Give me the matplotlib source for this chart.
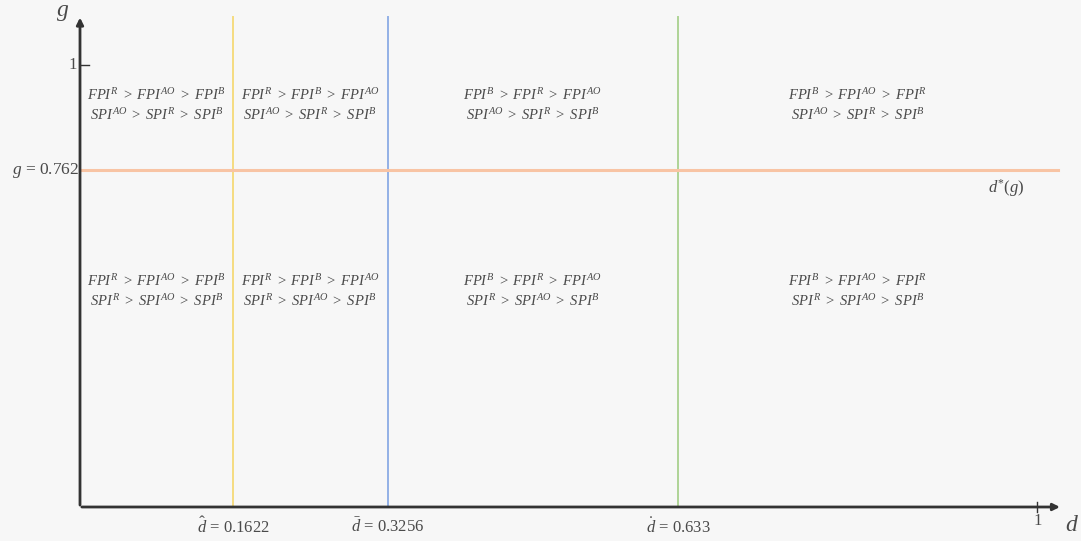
import matplotlib
matplotlib.use("Agg")
import matplotlib.pyplot as plt

plt.rcParams['font.family'] = ['Liberation Serif', 'DejaVu Serif']
plt.rcParams['mathtext.fontset'] = 'custom'
plt.rcParams['mathtext.rm'] = 'Liberation Serif'
plt.rcParams['mathtext.it'] = 'Liberation Serif:italic'
plt.rcParams['mathtext.bf'] = 'Liberation Serif:bold'

# data
thresholds = [0.1622, 0.3256, 0.633]
threshold_labels = [r"$\hat{d}$ = 0.1622", r"$\bar{d}$ = 0.3256", r"$\dot{d}$ = 0.633"]
threshold_colors = ["#f5dc80", "#93b1e6", "#afd496"]
g_star = 0.762
g_label = r"$g$ = 0.762"
upper_labels = [
    r"$FPI^R\ >\ FPI^{AO}\ >\ FPI^B$" + "\n" + r"$SPI^{AO}\ >\ SPI^R\ >\ SPI^B$",
    r"$FPI^R\ >\ FPI^B\ >\ FPI^{AO}$" + "\n" + r"$SPI^{AO}\ >\ SPI^R\ >\ SPI^B$",
    r"$FPI^B\ >\ FPI^R\ >\ FPI^{AO}$" + "\n" + r"$SPI^{AO}\ >\ SPI^R\ >\ SPI^B$",
    r"$FPI^B\ >\ FPI^{AO}\ >\ FPI^R$" + "\n" + r"$SPI^{AO}\ >\ SPI^R\ >\ SPI^B$",
]
lower_labels = [
    r"$FPI^R\ >\ FPI^{AO}\ >\ FPI^B$" + "\n" + r"$SPI^R\ >\ SPI^{AO}\ >\ SPI^B$",
    r"$FPI^R\ >\ FPI^B\ >\ FPI^{AO}$" + "\n" + r"$SPI^R\ >\ SPI^{AO}\ >\ SPI^B$",
    r"$FPI^B\ >\ FPI^R\ >\ FPI^{AO}$" + "\n" + r"$SPI^R\ >\ SPI^{AO}\ >\ SPI^B$",
    r"$FPI^B\ >\ FPI^{AO}\ >\ FPI^R$" + "\n" + r"$SPI^R\ >\ SPI^{AO}\ >\ SPI^B$",
]

bg = "#f7f7f7"
fig = plt.figure(figsize=(10.81, 5.41), dpi=100, facecolor=bg)
ax = fig.add_axes([0, 0, 1, 1], facecolor=bg)
ax.set_xlim(-80 / 945, 1001 / 945)
ax.set_ylim(-34 / 442, 507 / 442)
ax.axis("off")

ytop = 490 / 442
xend = 978 / 945
txt = "#4a4a4a"

# threshold lines
for t, c, lab in zip(thresholds, threshold_colors, threshold_labels):
    ax.plot([t, t], [0, ytop], color=c, lw=1.4, zorder=2)
    ax.text(t, -0.022, lab, ha="center", va="top", fontsize=12, color=txt)

# horizontal g line
ax.plot([0, xend], [g_star, g_star], color="#f8c4a4", lw=2.2, zorder=2)
ax.text(-0.001, g_star, g_label, ha="right", va="center", fontsize=12.5, color=txt)
ax.text(0.98, g_star - 0.04, r"$d^{*}(g)$", ha="center", va="center", fontsize=12, color=txt)

# axes with arrows
ax.annotate("", xy=(xend + 0.005, 0), xytext=(-0.001, 0),
            arrowprops=dict(arrowstyle="-|>", color="#333333", lw=2, mutation_scale=10), zorder=3)
ax.annotate("", xy=(0, ytop + 0.005), xytext=(0, -0.002),
            arrowprops=dict(arrowstyle="-|>", color="#333333", lw=2, mutation_scale=10), zorder=3)

# ticks at 1
ax.plot([1.013, 1.013], [-0.012, 0.012], color="#333333", lw=1)
ax.text(1.013, -0.014, "1", ha="center", va="top", fontsize=12, color=txt)
ax.plot([0, 0.01], [1, 1], color="#333333", lw=1)
ax.text(-0.003, 1, "1", ha="right", va="center", fontsize=12, color=txt)

ax.text(-0.012, ytop + 0.01, r"$g$", ha="right", va="center", fontsize=17, color=txt)
ax.text(xend + 0.015, -0.042, r"$d$", ha="center", va="center", fontsize=17, color=txt)

# region labels
bounds = [0] + thresholds + [1.013]
for i in range(4):
    xc = (bounds[i] + bounds[i + 1]) / 2
    ax.text(xc, 0.909, upper_labels[i], ha="center", va="center", fontsize=10.5,
            color=txt, linespacing=1.3)
    ax.text(xc, 0.489, lower_labels[i], ha="center", va="center", fontsize=10.5,
            color=txt, linespacing=1.3)

fig.savefig("out.png", dpi=100, facecolor=bg)
